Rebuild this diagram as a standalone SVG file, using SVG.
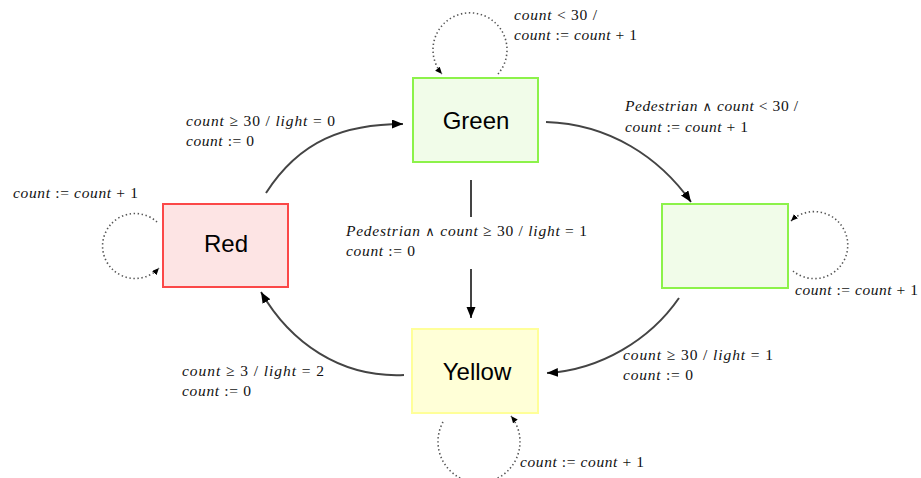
<svg xmlns="http://www.w3.org/2000/svg" width="921" height="478" viewBox="0 0 921 478">
  <style>
    .state { stroke-width: 2; }
    .s-green { fill: #f1fce9; stroke: #8cf24a; }
    .s-red { fill: #fde4e4; stroke: #fb4848; }
    .s-yellow { fill: #ffffd7; stroke: #ffff99; }
    .name { font-family: "Liberation Sans", Arial, sans-serif; font-size: 24px; fill: #000; text-anchor: middle; }
    .edge { fill: none; stroke: #444; stroke-width: 2; }
    .loop { fill: none; stroke: #555; stroke-width: 1.6; stroke-dasharray: 1.4 2.6; }
    .m { font-family: "Liberation Serif", "Times New Roman", serif; font-size: 15.5px; fill: #111; }
    .i { font-style: italic; }
    .op { font-family: "DejaVu Serif", serif; font-size: 13px; }
  </style>
  <defs>
    <marker id="arrow" markerUnits="userSpaceOnUse" markerWidth="12" markerHeight="10" refX="11" refY="4.5" orient="auto">
      <path d="M0,0 L11,4.5 L0,9 z" fill="#000"/>
    </marker>
    <marker id="arrow-s" markerUnits="userSpaceOnUse" markerWidth="8" markerHeight="8" refX="7" refY="3" orient="auto">
      <path d="M0,0 L7,3 L0,6 z" fill="#000"/>
    </marker>
  </defs>

  <!-- transitions -->
  <g id="connectors">
    <path class="edge" d="M266,193 C300,140 345,124 403,124" marker-end="url(#arrow)"/>
    <path class="edge" d="M546,122 C610,124 660,158 691,202" marker-end="url(#arrow)"/>
    <path class="edge" d="M679,298 C650,340 600,370 547,373" marker-end="url(#arrow)"/>
    <path class="edge" d="M404,375 C340,378 290,342 261,292" marker-end="url(#arrow)"/>
    <path class="edge" d="M471,180 V217 M471,269 V318" marker-end="url(#arrow)"/>

    <path class="loop" d="M498,74 A37,37 0 1 0 442,74" marker-end="url(#arrow-s)"/>
    <path class="loop" d="M157,222 A32.5,32.5 0 1 0 159,268" marker-end="url(#arrow-s)"/>
    <path class="loop" d="M793,271 A33.5,33.5 0 1 0 791,221" marker-end="url(#arrow-s)"/>
    <path class="loop" d="M443,422 A41,41 0 1 0 511,416" marker-end="url(#arrow-s)"/>
  </g>

  <!-- transition labels -->
  <g id="labels">
    <text class="m" x="514" y="20" textLength="83"><tspan class="i">count</tspan> &lt; 30 /</text>
    <text class="m" x="514" y="40" textLength="123"><tspan class="i">count</tspan> := <tspan class="i">count</tspan> + 1</text>

    <text class="m" x="186" y="126" textLength="149"><tspan class="i">count</tspan> ≥ 30 / <tspan class="i">light</tspan> = 0</text>
    <text class="m" x="186" y="146" textLength="68"><tspan class="i">count</tspan> := 0</text>

    <text class="m" x="13" y="198" textLength="125"><tspan class="i">count</tspan> := <tspan class="i">count</tspan> + 1</text>

    <text class="m" x="346" y="236" textLength="241"><tspan class="i">Pedestrian</tspan> <tspan class="op">∧</tspan> <tspan class="i">count</tspan> ≥ 30 / <tspan class="i">light</tspan> = 1</text>
    <text class="m" x="346" y="256" textLength="69"><tspan class="i">count</tspan> := 0</text>

    <text class="m" x="625" y="111" textLength="173"><tspan class="i">Pedestrian</tspan> <tspan class="op">∧</tspan> <tspan class="i">count</tspan> &lt; 30 /</text>
    <text class="m" x="625" y="132" textLength="123"><tspan class="i">count</tspan> := <tspan class="i">count</tspan> + 1</text>

    <text class="m" x="795" y="295" textLength="123"><tspan class="i">count</tspan> := <tspan class="i">count</tspan> + 1</text>

    <text class="m" x="623" y="360" textLength="150"><tspan class="i">count</tspan> ≥ 30 / <tspan class="i">light</tspan> = 1</text>
    <text class="m" x="623" y="380" textLength="70"><tspan class="i">count</tspan> := 0</text>

    <text class="m" x="182" y="376" textLength="142"><tspan class="i">count</tspan> ≥ 3 / <tspan class="i">light</tspan> = 2</text>
    <text class="m" x="182" y="396" textLength="69"><tspan class="i">count</tspan> := 0</text>

    <text class="m" x="520" y="467" textLength="124"><tspan class="i">count</tspan> := <tspan class="i">count</tspan> + 1</text>
  </g>

  <!-- states -->
  <g id="green">
    <rect class="state s-green" x="413" y="78" width="125" height="84"/>
    <text class="name" x="476" y="128.5">Green</text>
  </g>
  <g id="red">
    <rect class="state s-red" x="163" y="204" width="125" height="83"/>
    <text class="name" x="226" y="252">Red</text>
  </g>
  <g id="pedestrian-wait">
    <rect class="state s-green" x="662" y="204" width="126" height="84"/>
  </g>
  <g id="yellow">
    <rect class="state s-yellow" x="412" y="329" width="126" height="84"/>
    <text class="name" x="477" y="380">Yellow</text>
  </g>
</svg>
